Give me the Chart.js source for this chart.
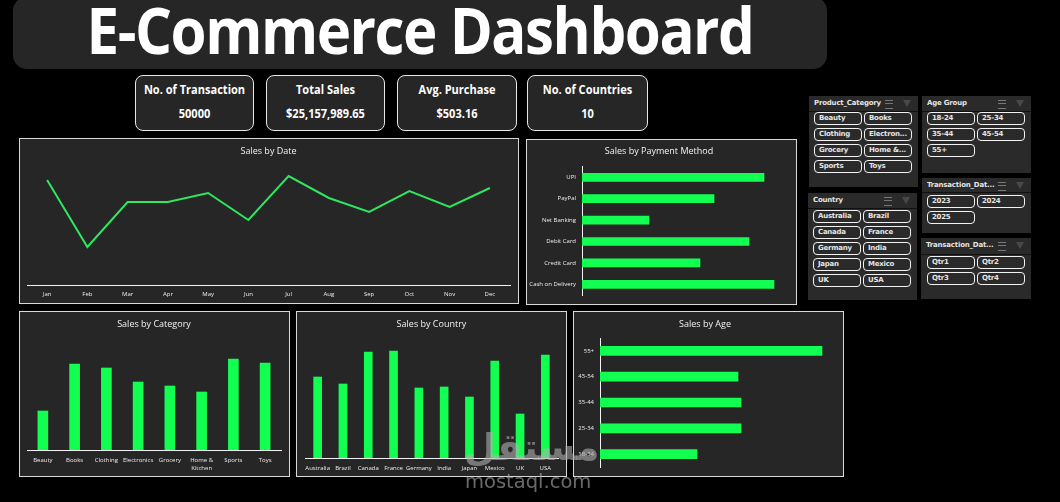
<!DOCTYPE html>
<html><head><meta charset="utf-8">
<script src="https://cdn.jsdelivr.net/npm/chart.js@4"></script>
<style>
html,body{margin:0;padding:0;background:#000;width:1060px;height:502px;overflow:hidden}
#root{position:relative;width:1060px;height:502px;background:#000;font-family:"Open Sans",sans-serif;color:#fff}
.abs{position:absolute;box-sizing:border-box}
#hdr{left:13px;top:-3px;width:814px;height:72px;background:#262626;border-radius:14px}
#ttl{left:0;top:-5px;width:840px;height:72px;text-align:center;font:700 64px/70px "Open Sans",sans-serif;white-space:nowrap;letter-spacing:-1.6px;transform:scaleX(.91);transform-origin:420px 0}
.kpi{background:#262626;border:1px solid #e8e8e8;border-radius:8px;top:75px;height:56px;text-align:center;font:700 12px/15px "Open Sans",sans-serif}
.kpi div{position:absolute;left:0;right:0;white-space:nowrap;transform:scaleX(.92)}
.kpi .a{top:6px}.kpi .b{top:30px}
.panel{background:#262626;border:1px solid #d9d9d9}
canvas.c{position:absolute}
.sl{background:#2a2a2a}
.sl .h{position:absolute;left:0;right:0;top:0;border-bottom:1px solid #111;font:700 7px/14px "DejaVu Sans",sans-serif;letter-spacing:-.2px;padding-left:5px;color:#e4e4e4;white-space:nowrap;overflow:hidden}
.sl .ic{position:absolute;top:4px;width:8px;height:7px;border-top:1px solid #777;border-bottom:1px solid #777;background:linear-gradient(#777,#777) 0 2px/8px 1px no-repeat}
.sl .ic2{position:absolute;top:4px;width:0;height:0;border-left:4px solid transparent;border-right:4px solid transparent;border-top:7px solid #484848}
.btn{position:absolute;width:48px;height:13px;border:1px solid #f2f2f2;border-radius:4px;box-sizing:border-box;font:700 7px/11px "DejaVu Sans",sans-serif;letter-spacing:-.25px;padding-left:4px;color:#e4e4e4;white-space:nowrap;overflow:hidden}
.wm{color:rgba(175,175,175,.6);white-space:nowrap}
</style></head><body><div id="root">
<div class="abs" id="hdr"></div><div class="abs" id="ttl">E-Commerce Dashboard</div>
<div id="kpis"></div><div id="panels"></div><div id="slicers"></div>
<div class="abs wm" style="left:464px;top:426px;font:700 37px/44px 'DejaVu Sans',sans-serif">مستقل</div>
<div class="abs wm" style="left:465px;top:470px;font:400 19.5px/24px 'DejaVu Sans',sans-serif">mostaql.com</div>
</div>
<script>
const GREEN='#12ff52';
const kpiLabels=['No. of Transaction','Total Sales','Avg. Purchase','No. of Countries'];
const kpiValues=['50000','$25,157,989.65','$503.16','10'];
const kpiBoxes=[[135,119],[266,119],[397,120],[527,121]];
const months=['Jan','Feb','Mar','Apr','May','Jun','Jul','Aug','Sep','Oct','Nov','Dec'];
const monthSales=[105,38,83,83,92,65,109,87,73,94,78,97];
const payMethods=['UPI','PayPal','Net Banking','Debit Card','Credit Card','Cash on Delivery'];
const paySales=[182,132,67,167,118,192];
const categories=['Beauty','Books','Clothing','Electronics','Grocery',['Home &','Kitchen'],'Sports','Toys'];
const catSales=[39,86,82,68,64,58,91,87];
const countries=['Australia','Brazil','Canada','France','Germany','India','Japan','Mexico','UK','USA'];
const countrySales=[81,74,106,107,70,71,61,97,44,103];
const ages=['55+','45-54','35-44','25-34','18-34'];
const ageSales=[222,138,141,141,97];

const root=document.getElementById('root');
function el(cls,css,html){const d=document.createElement('div');d.className='abs '+cls;d.style.cssText=css;if(html)d.innerHTML=html;root.insertBefore(d,root.querySelector('.wm'));return d;}
kpiLabels.forEach((t,i)=>el('kpi',`left:${kpiBoxes[i][0]}px;width:${kpiBoxes[i][1]}px`,`<div class="a">${t}</div><div class="b">${kpiValues[i]}</div>`));

const slicers=[
 {t:'Product_Category',x:809,y:96,w:109,h:91,hh:15,bx:5,by:16,items:['Beauty','Books','Clothing','Electron...','Grocery','Home &...','Sports','Toys']},
 {t:'Age Group',x:922,y:96,w:109,h:77,hh:15,bx:5,by:16,items:['18-24','25-34','35-44','45-54','55+']},
 {t:'Transaction_Dat...',x:922,y:178,w:109,h:55,hh:14,bx:5,by:17,items:['2023','2024','2025']},
 {t:'Transaction_Dat...',x:921,y:238,w:110,h:61,hh:16,bx:6,by:18,items:['Qtr1','Qtr2','Qtr3','Qtr4']},
 {t:'Country',x:808,y:193,w:109,h:107,hh:15,bx:5,by:17,items:['Australia','Brazil','Canada','France','Germany','India','Japan','Mexico','UK','USA']}
];
slicers.forEach(s=>{
 let h=`<div class="h" style="height:${s.hh}px">${s.t}</div><div class="ic" style="left:${s.w-33}px"></div><div class="ic2" style="left:${s.w-15}px"></div>`;
 s.items.forEach((it,i)=>{h+=`<div class="btn" style="left:${s.bx+(i%2)*50}px;top:${s.by+Math.floor(i/2)*16}px">${it}</div>`;});
 el('sl',`left:${s.x}px;top:${s.y}px;width:${s.w}px;height:${s.h}px`,h);
});

function makeChart(o){
 el('panel',`left:${o.box[0]}px;top:${o.box[1]}px;width:${o.box[2]}px;height:${o.box[3]}px`);
 const c=document.createElement('canvas');c.className='c';c.width=o.box[2];c.height=o.box[3];
 c.style.cssText=`left:${o.box[0]}px;top:${o.box[1]}px;width:${o.box[2]}px;height:${o.box[3]}px`;
 root.insertBefore(c,root.querySelector('.wm'));
 const horiz=!!o.horizontal;
 const tick={color:'#ececec',font:{family:'"Open Sans",sans-serif',size:6,lineHeight:1.33},autoSkip:false,maxRotation:0,minRotation:0,padding:o.tickPad};
 const catAxis={type:'category',offset:true,grid:{display:false,drawTicks:false},border:{display:true,color:'#f4f4f4',width:1},ticks:tick,
   afterFit:s=>{if(horiz)s.width=o.axisSize;else s.height=o.axisSize;}};
 const valAxis={display:false,min:0,max:o.max};
 new Chart(c,{type:o.type,data:{labels:o.labels,datasets:[{data:o.values,backgroundColor:GREEN,borderColor:o.type==='line'?'#2ee65f':GREEN,borderWidth:o.type==='line'?2:0,borderSkipped:false,barThickness:o.bar,pointRadius:0,tension:0,fill:false}]},
  options:{indexAxis:horiz?'y':'x',responsive:false,animation:false,
   layout:{padding:o.pad},
   scales:horiz?{y:catAxis,x:valAxis}:{x:catAxis,y:valAxis},
   plugins:{legend:{display:false},tooltip:{enabled:false},
    title:{display:true,text:o.title,color:'#f2f2f2',font:{family:'"Open Sans",sans-serif',size:9,weight:'normal',lineHeight:1.2},padding:{top:o.tp[0],bottom:o.tp[1]}}}}});
}
makeChart({type:'line',title:'Sales by Date',box:[19,138,500,166],labels:months,values:monthSales,max:120,tp:[7.6,8.6],pad:{left:8,right:9,top:0,bottom:7},axisSize:12,tickPad:5});
makeChart({type:'bar',horizontal:true,title:'Sales by Payment Method',box:[526,139,271,166],labels:payMethods,values:paySales,max:208,bar:8,tp:[6.6,10.2],pad:{left:2,right:7,top:0,bottom:10},axisSize:54,tickPad:6});
makeChart({type:'bar',title:'Sales by Category',box:[19,311,271,166],labels:categories,values:catSales,max:110,bar:10,tp:[7.6,10.6],pad:{left:8,right:9,top:0,bottom:3},axisSize:24,tickPad:6});
makeChart({type:'bar',title:'Sales by Country',box:[296,311,271,166],labels:countries,values:countrySales,max:118,bar:8,tp:[7.6,10.6],pad:{left:9,right:9,top:0,bottom:5},axisSize:14,tickPad:6});
makeChart({type:'bar',horizontal:true,title:'Sales by Age',box:[573,311,271,166],labels:ages,values:ageSales,max:235,bar:9,tp:[7.6,8.6],pad:{left:2,right:9,top:0,bottom:9},axisSize:25,tickPad:6});
</script></body></html>
